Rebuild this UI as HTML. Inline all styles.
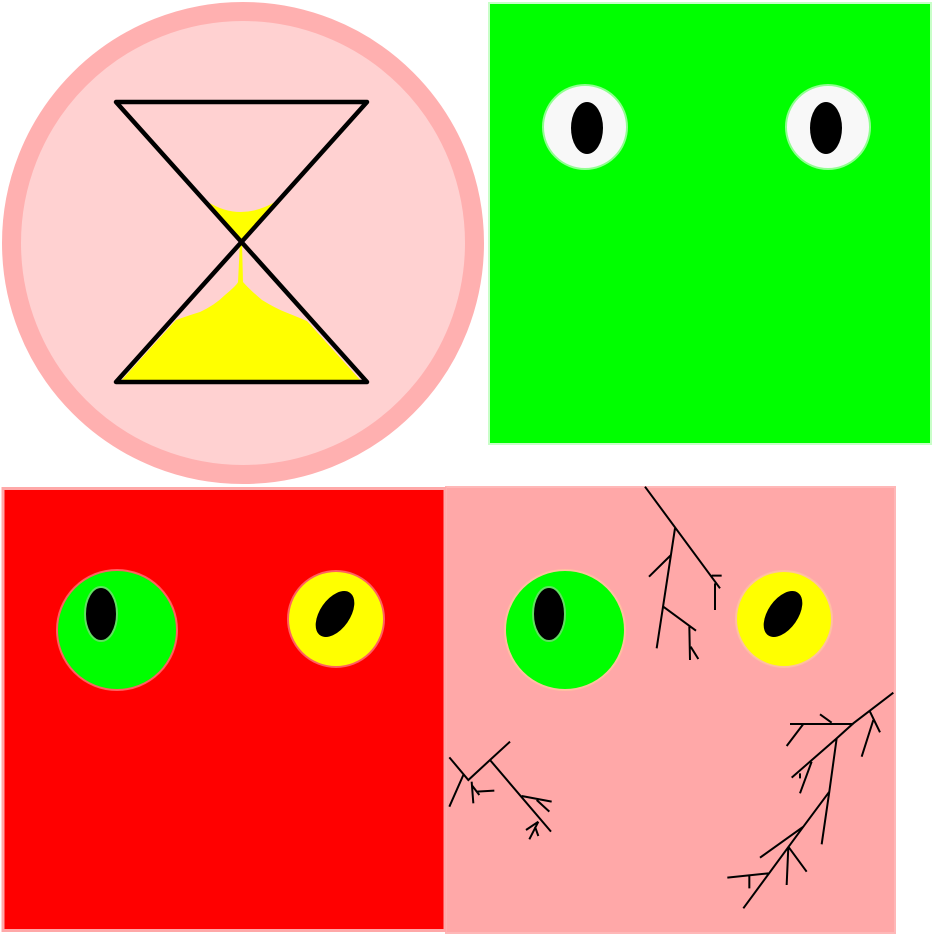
<!DOCTYPE html>
<html><head><meta charset="utf-8"><style>html,body{margin:0;padding:0;background:#fff}svg{display:block}</style></head>
<body>
<svg width="934" height="934" viewBox="0 0 934 934" xmlns="http://www.w3.org/2000/svg">
  <g>
    <circle cx="243" cy="243" r="231.5" fill="#ffd1d1" stroke="#ffb0b0" stroke-width="19"/>
    <path d="M208,202 Q240,222 275,202 L241,240 Z" fill="#ffff00"/>
    <path d="M240,242 L242,242 L243,282 Q250,290 262,300 Q275,308 285,312 Q300,318 307,321 L362,382 L120,382 L176,320 Q190,315 200,312 Q215,305 225,295 Q237,285 238,282 Z" fill="#ffff00"/>
    <path d="M116,102 L367,102 L116,382 L367,382 Z" fill="none" stroke="#000" stroke-width="4.5" stroke-linejoin="round" stroke-linecap="round"/>
  </g>
  <g>
    <rect x="489" y="3" width="442" height="441" fill="#00ff00" stroke="#c8ffc8" stroke-width="2"/>
    <circle cx="585" cy="127" r="42" fill="#f8f8f8" stroke="#90ff90" stroke-width="2"/>
    <ellipse cx="587" cy="128" rx="16" ry="26" fill="#000"/>
    <circle cx="828" cy="127" r="42" fill="#f8f8f8" stroke="#90ff90" stroke-width="2"/>
    <ellipse cx="826" cy="128" rx="16" ry="26" fill="#000"/>
  </g>
  <g>
    <rect x="446" y="487" width="449" height="446" fill="#ffa8a8" stroke="#ffb8b8" stroke-width="2"/>
    <circle cx="565" cy="630" r="60" fill="#00ff00" stroke="#ffc0a0" stroke-width="2"/>
    <ellipse cx="549" cy="614" rx="16" ry="27" fill="#000" stroke="#60e060" stroke-width="2"/>
    <circle cx="784" cy="619" r="48" fill="#ffff00" stroke="#ffc0a0" stroke-width="2"/>
    <ellipse cx="783" cy="614" rx="15" ry="26" transform="rotate(35 783 614)" fill="#000"/>
    <g transform="translate(440,480) scale(0.33333)" fill="none" stroke="#000" stroke-width="6">
      <path d="M615,20 L840,325 M705,145 L650,505 M693,225 L627,290 M670,380 L768,452 M748,440 L750,540 M752,500 L775,537 M815,287 L845,287 M825,310 L825,390"/>
      <path d="M1360,638 L1240,730 L1190,775 L1110,845 L1055,893 M1190,775 L1168,935 L1145,1093 M1168,935 L1090,1040 L910,1285 M1090,1040 L960,1133 M1045,1100 L1100,1175 M1045,1100 L1040,1215 M985,1180 L862,1193 M928,1185 L928,1225 M1050,732 L1240,732 M1090,732 L1040,798 M1140,703 L1175,728 M1290,695 L1320,757 M1300,720 L1265,830 M1115,845 L1080,940 M1080,880 L1080,895"/>
      <path d="M210,785 L150,840 L85,900 L28,832 M70,885 L28,980 M95,905 L100,970 M95,915 L118,945 M110,935 L163,932 M150,840 L333,1055 M245,948 L335,965 M290,960 L328,995 M295,1025 L268,1078 M295,1025 L258,1050 M285,1040 L295,1068"/>
    </g>
  </g>
  <g>
    <rect x="3" y="488.5" width="442" height="442" fill="#ff0000" stroke="#ffa8a8" stroke-width="3"/>
    <circle cx="117" cy="630" r="60" fill="#00ff00" stroke="#ff6060" stroke-width="2"/>
    <ellipse cx="101" cy="614" rx="16" ry="27" fill="#000" stroke="#60e060" stroke-width="2"/>
    <circle cx="336" cy="619" r="48" fill="#ffff00" stroke="#ff6060" stroke-width="2"/>
    <ellipse cx="335" cy="614" rx="15" ry="26" transform="rotate(35 335 614)" fill="#000"/>
  </g>
</svg>
</body></html>
